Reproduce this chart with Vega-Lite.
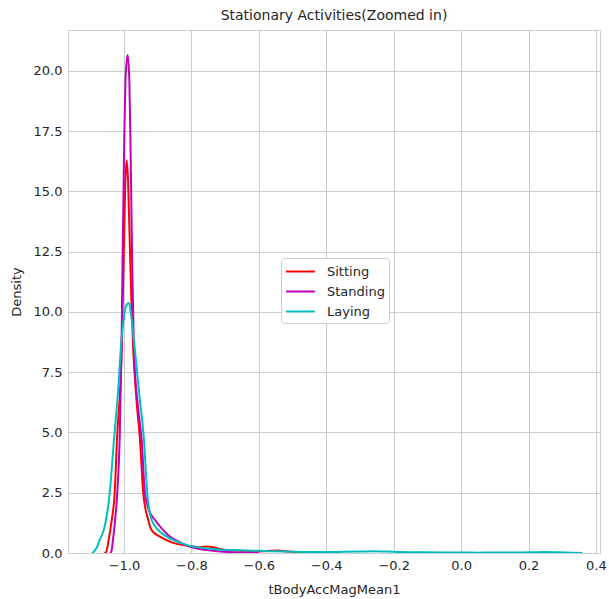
{
  "$schema": "https://vega.github.io/schema/vega-lite/v6.json",
  "width": 532,
  "height": 523,
  "autosize": {"type": "none"},
  "padding": {"left": 68, "top": 30, "right": 9, "bottom": 46},
  "background": "white",
  "title": {"text": "Stationary Activities(Zoomed in)", "fontSize": 14, "fontWeight": "normal", "color": "#262626", "font": "DejaVu Sans", "offset": 7},
  "config": {
    "font": "DejaVu Sans",
    "view": {"stroke": "#cccccc", "strokeWidth": 1},
    "axis": {"labelColor": "#262626", "labelFontSize": 13, "titleColor": "#262626", "titleFontSize": 13, "titleFontWeight": "normal", "gridColor": "#cccccc", "gridWidth": 1, "gridOpacity": 1, "domain": false, "ticks": false, "labelFont": "DejaVu Sans", "titleFont": "DejaVu Sans"}
  },
  "data": {"values": [
    {"a": "Sitting", "x": -1.058, "d": 0},
    {"a": "Sitting", "x": -1.0525, "d": 0.05},
    {"a": "Sitting", "x": -1.0454, "d": 0.54},
    {"a": "Sitting", "x": -1.037, "d": 1.3},
    {"a": "Sitting", "x": -1.0276, "d": 2.48},
    {"a": "Sitting", "x": -1.0208, "d": 4.69},
    {"a": "Sitting", "x": -1.0068, "d": 8.4},
    {"a": "Sitting", "x": -1.0, "d": 12.8},
    {"a": "Sitting", "x": -0.996, "d": 15.4},
    {"a": "Sitting", "x": -0.992, "d": 16.3},
    {"a": "Sitting", "x": -0.988, "d": 15.5},
    {"a": "Sitting", "x": -0.983, "d": 13.0},
    {"a": "Sitting", "x": -0.978, "d": 10.5},
    {"a": "Sitting", "x": -0.9724, "d": 8.4},
    {"a": "Sitting", "x": -0.962, "d": 6.2},
    {"a": "Sitting", "x": -0.9525, "d": 4.69},
    {"a": "Sitting", "x": -0.9428, "d": 2.48},
    {"a": "Sitting", "x": -0.928, "d": 1.37},
    {"a": "Sitting", "x": -0.918, "d": 0.95},
    {"a": "Sitting", "x": -0.893, "d": 0.68},
    {"a": "Sitting", "x": -0.854, "d": 0.42},
    {"a": "Sitting", "x": -0.825, "d": 0.33},
    {"a": "Sitting", "x": -0.8, "d": 0.28},
    {"a": "Sitting", "x": -0.775, "d": 0.24},
    {"a": "Sitting", "x": -0.752, "d": 0.27},
    {"a": "Sitting", "x": -0.735, "d": 0.24},
    {"a": "Sitting", "x": -0.715, "d": 0.17},
    {"a": "Sitting", "x": -0.69, "d": 0.12},
    {"a": "Sitting", "x": -0.66, "d": 0.1},
    {"a": "Sitting", "x": -0.625, "d": 0.08},
    {"a": "Sitting", "x": -0.595, "d": 0.07},
    {"a": "Sitting", "x": -0.565, "d": 0.09},
    {"a": "Sitting", "x": -0.543, "d": 0.1},
    {"a": "Sitting", "x": -0.52, "d": 0.07},
    {"a": "Sitting", "x": -0.48, "d": 0.04},
    {"a": "Sitting", "x": -0.44, "d": 0.03},
    {"a": "Sitting", "x": -0.4, "d": 0.02},
    {"a": "Sitting", "x": -0.36, "d": 0.0},

    {"a": "Standing", "x": -1.041, "d": 0},
    {"a": "Standing", "x": -1.0377, "d": 0.05},
    {"a": "Standing", "x": -1.0326, "d": 0.54},
    {"a": "Standing", "x": -1.026, "d": 1.4},
    {"a": "Standing", "x": -1.0199, "d": 2.48},
    {"a": "Standing", "x": -1.0128, "d": 4.69},
    {"a": "Standing", "x": -1.0074, "d": 8.4},
    {"a": "Standing", "x": -1.004, "d": 12.3},
    {"a": "Standing", "x": -1.0, "d": 16.35},
    {"a": "Standing", "x": -0.995, "d": 19.8},
    {"a": "Standing", "x": -0.989, "d": 20.66},
    {"a": "Standing", "x": -0.984, "d": 19.6},
    {"a": "Standing", "x": -0.98, "d": 16.35},
    {"a": "Standing", "x": -0.976, "d": 12.4},
    {"a": "Standing", "x": -0.9705, "d": 8.4},
    {"a": "Standing", "x": -0.958, "d": 6.0},
    {"a": "Standing", "x": -0.9475, "d": 4.69},
    {"a": "Standing", "x": -0.9377, "d": 2.48},
    {"a": "Standing", "x": -0.925, "d": 1.75},
    {"a": "Standing", "x": -0.908, "d": 1.37},
    {"a": "Standing", "x": -0.8835, "d": 0.95},
    {"a": "Standing", "x": -0.8636, "d": 0.68},
    {"a": "Standing", "x": -0.845, "d": 0.52},
    {"a": "Standing", "x": -0.828, "d": 0.4},
    {"a": "Standing", "x": -0.804, "d": 0.26},
    {"a": "Standing", "x": -0.78, "d": 0.18},
    {"a": "Standing", "x": -0.755, "d": 0.12},
    {"a": "Standing", "x": -0.72, "d": 0.07},
    {"a": "Standing", "x": -0.69, "d": 0.04},
    {"a": "Standing", "x": -0.65, "d": 0.02},
    {"a": "Standing", "x": -0.6, "d": 0.0},

    {"a": "Laying", "x": -1.095, "d": 0},
    {"a": "Laying", "x": -1.088, "d": 0.07},
    {"a": "Laying", "x": -1.08, "d": 0.25},
    {"a": "Laying", "x": -1.072, "d": 0.54},
    {"a": "Laying", "x": -1.061, "d": 0.9},
    {"a": "Laying", "x": -1.051, "d": 1.55},
    {"a": "Laying", "x": -1.0424, "d": 2.48},
    {"a": "Laying", "x": -1.0297, "d": 4.69},
    {"a": "Laying", "x": -1.016, "d": 7.0},
    {"a": "Laying", "x": -1.0098, "d": 8.4},
    {"a": "Laying", "x": -1.0, "d": 9.8},
    {"a": "Laying", "x": -0.992, "d": 10.3},
    {"a": "Laying", "x": -0.9852, "d": 10.37},
    {"a": "Laying", "x": -0.979, "d": 9.9},
    {"a": "Laying", "x": -0.9724, "d": 9.1},
    {"a": "Laying", "x": -0.9674, "d": 8.4},
    {"a": "Laying", "x": -0.954, "d": 6.5},
    {"a": "Laying", "x": -0.9407, "d": 4.69},
    {"a": "Laying", "x": -0.931, "d": 2.48},
    {"a": "Laying", "x": -0.9179, "d": 1.37},
    {"a": "Laying", "x": -0.898, "d": 0.95},
    {"a": "Laying", "x": -0.873, "d": 0.68},
    {"a": "Laying", "x": -0.828, "d": 0.4},
    {"a": "Laying", "x": -0.8, "d": 0.28},
    {"a": "Laying", "x": -0.76, "d": 0.2},
    {"a": "Laying", "x": -0.72, "d": 0.15},
    {"a": "Laying", "x": -0.68, "d": 0.12},
    {"a": "Laying", "x": -0.64, "d": 0.1},
    {"a": "Laying", "x": -0.6, "d": 0.09},
    {"a": "Laying", "x": -0.55, "d": 0.07},
    {"a": "Laying", "x": -0.5, "d": 0.05},
    {"a": "Laying", "x": -0.45, "d": 0.04},
    {"a": "Laying", "x": -0.4, "d": 0.04},
    {"a": "Laying", "x": -0.35, "d": 0.05},
    {"a": "Laying", "x": -0.3, "d": 0.06},
    {"a": "Laying", "x": -0.26, "d": 0.07},
    {"a": "Laying", "x": -0.22, "d": 0.06},
    {"a": "Laying", "x": -0.18, "d": 0.04},
    {"a": "Laying", "x": -0.12, "d": 0.03},
    {"a": "Laying", "x": -0.05, "d": 0.02},
    {"a": "Laying", "x": 0.0, "d": 0.02},
    {"a": "Laying", "x": 0.05, "d": 0.015},
    {"a": "Laying", "x": 0.1, "d": 0.02},
    {"a": "Laying", "x": 0.15, "d": 0.02},
    {"a": "Laying", "x": 0.2, "d": 0.03},
    {"a": "Laying", "x": 0.25, "d": 0.04},
    {"a": "Laying", "x": 0.29, "d": 0.03},
    {"a": "Laying", "x": 0.33, "d": 0.01},
    {"a": "Laying", "x": 0.36, "d": 0.0}
  ]},
  "mark": {"type": "line", "interpolate": "monotone", "strokeWidth": 2, "clip": true},
  "encoding": {
    "x": {"field": "x", "type": "quantitative", "title": "tBodyAccMagMean1",
      "scale": {"domain": [-1.166, 0.412], "nice": false, "zero": false},
      "axis": {"values": [-1.0, -0.8, -0.6, -0.4, -0.2, 0.0, 0.2, 0.4], "format": ".1f", "labelPadding": 6, "titlePadding": 11}},
    "y": {"field": "d", "type": "quantitative", "title": "Density",
      "scale": {"domain": [0, 21.7], "nice": false},
      "axis": {"values": [0, 2.5, 5, 7.5, 10, 12.5, 15, 17.5, 20], "format": ".1f", "labelPadding": 6, "titlePadding": 10}},
    "color": {"field": "a", "type": "nominal",
      "scale": {"domain": ["Sitting", "Standing", "Laying"], "range": ["#ff0000", "#bf00bf", "#00bfbf"]},
      "sort": ["Sitting", "Standing", "Laying"],
      "legend": {"title": null, "orient": "none", "legendX": 213, "legendY": 228, "padding": 4, "fillColor": "white", "strokeColor": "#cccccc", "cornerRadius": 3, "symbolType": "M-1,0H2.4", "symbolSize": 289, "symbolStrokeWidth": 2, "symbolFillColor": "transparent", "labelFontSize": 13, "labelColor": "#262626", "labelOffset": 23, "rowPadding": 3, "labelFont": "DejaVu Sans"}}
  }
}
